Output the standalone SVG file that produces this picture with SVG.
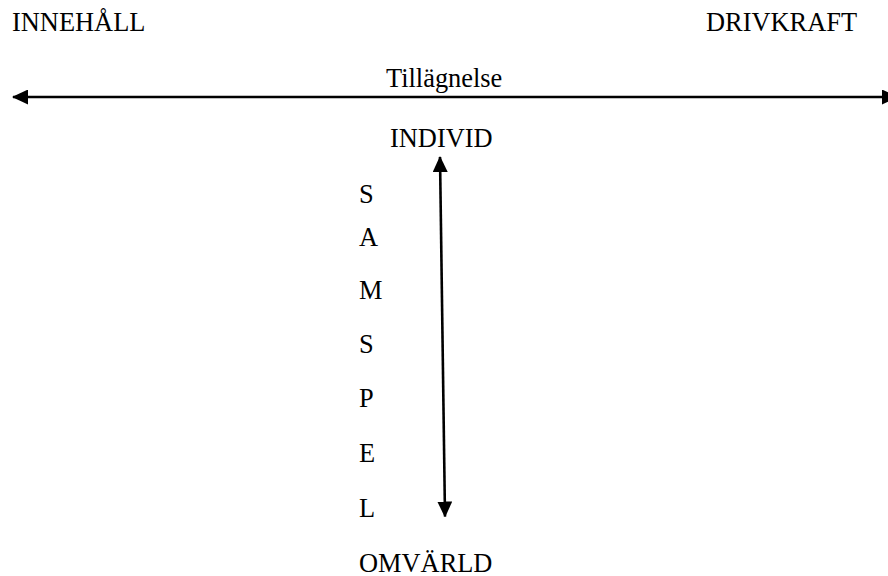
<svg xmlns="http://www.w3.org/2000/svg" width="888" height="576" viewBox="0 0 888 576">
  <style>
    .t { font-family: "Liberation Serif", "Times New Roman", serif; font-size: 26.4px; fill: #000; }
    .ln { stroke: #000; stroke-width: 2.6; fill: none; }
  </style>
  <defs>
    <marker id="head" markerWidth="16" markerHeight="15" refX="15" refY="7.5" orient="auto-start-reverse" markerUnits="userSpaceOnUse">
      <path d="M0,0 L16,7.5 L0,15 Z" fill="#000"/>
    </marker>
  </defs>
  <rect width="888" height="576" fill="#fff"/>

  <g id="innehall"><text class="t" x="12" y="31">INNEHÅLL</text></g>
  <g id="drivkraft"><text class="t" x="706" y="31">DRIVKRAFT</text></g>
  <g id="tillagnelse"><text class="t" x="386" y="87">Tillägnelse</text></g>
  <g id="individ"><text class="t" x="390" y="147">INDIVID</text></g>
  <g id="omvarld"><text class="t" x="359" y="572">OMVÄRLD</text></g>
  <g id="samspel">
    <text class="t" x="359" y="203">S</text>
    <text class="t" x="359" y="246">A</text>
    <text class="t" x="359" y="299">M</text>
    <text class="t" x="359" y="353">S</text>
    <text class="t" x="359" y="407">P</text>
    <text class="t" x="359" y="462">E</text>
    <text class="t" x="359" y="517">L</text>
  </g>

  <g id="connectors">
    <line class="ln" x1="13" y1="97" x2="897" y2="97" marker-start="url(#head)" marker-end="url(#head)"/>
    <line class="ln" x1="440" y1="157" x2="445" y2="516.5" marker-start="url(#head)" marker-end="url(#head)"/>
  </g>
</svg>
